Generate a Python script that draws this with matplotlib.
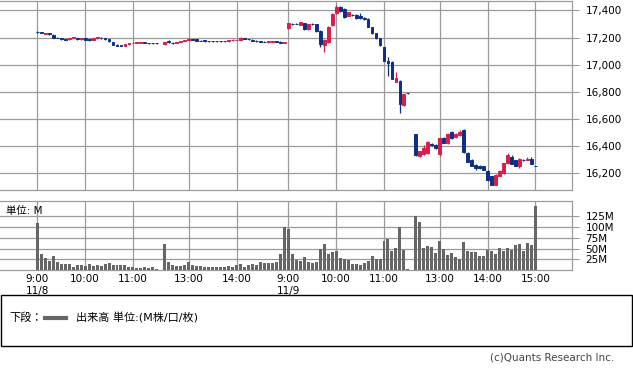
import matplotlib
matplotlib.use('Agg')
import matplotlib.pyplot as plt
from matplotlib.patches import Rectangle
from matplotlib.lines import Line2D

plt.rcParams['font.family'] = ['DejaVu Sans', 'Noto Sans CJK JP']

# 5-minute bars, morning 9:00-11:30, afternoon 12:30-15:00
am_times = ['%d:%02d' % ((540 + 5 * k) // 60, (540 + 5 * k) % 60) for k in range(31)]
pm_times = ['%d:%02d' % ((750 + 5 * k) // 60, (750 + 5 * k) % 60) for k in range(31)]
bar_times = am_times + pm_times
dates = ['11/8', '11/9']

# 11/8
open_d1 = [17242,17238,17228,17230,17222,17200,17195,17190,17186,17196,17198,17188,17194,17188,17182,17194,
           17200,17194,17186,17165,17148,17143,17140,17150,17158,17160,17162,17165,17160,17158,17157,
           17150,17175,17162,17160,17168,17174,17182,17188,17186,17176,17178,17175,17174,17175,17173,17174,
           17172,17178,17181,17184,17196,17190,17184,17176,17172,17170,17166,17170,17174,17170,17160]
high_d1 = [17246,17240,17236,17232,17224,17202,17198,17192,17200,17204,17200,17196,17196,17190,17198,17205,
           17202,17196,17188,17168,17150,17146,17153,17163,17166,17169,17168,17167,17162,17160,17159,
           17168,17178,17164,17170,17177,17185,17193,17191,17188,17178,17180,17177,17176,17177,17175,17177,
           17182,17187,17188,17202,17199,17192,17186,17178,17174,17172,17176,17176,17176,17172,17168]
low_d1 = [17232,17230,17225,17220,17198,17193,17185,17179,17184,17194,17183,17185,17182,17175,17180,17191,
          17191,17185,17170,17145,17137,17138,17138,17148,17156,17158,17160,17158,17154,17153,17155,
          17146,17163,17155,17157,17165,17172,17180,17182,17174,17171,17169,17169,17170,17168,17170,17169,
          17170,17176,17179,17182,17186,17183,17174,17169,17165,17167,17163,17167,17167,17159,17158]
close_d1 = [17238,17234,17232,17224,17200,17196,17188,17182,17198,17201,17186,17193,17185,17178,17195,17202,
            17194,17188,17172,17148,17140,17140,17150,17160,17163,17166,17165,17160,17157,17156,17157,
            17165,17166,17158,17168,17174,17182,17190,17185,17176,17174,17172,17172,17172,17171,17173,17172,
            17180,17184,17185,17198,17188,17186,17176,17172,17168,17170,17174,17172,17170,17162,17165]
vol_d1 = [110,37,28,22,33,19,14,14,14,8,11,11,9,14,9,12,9,14,16,12,11,11,11,6,6,5,5,6,5,6,2,
          61,19,11,9,9,11,19,11,9,9,8,8,6,6,8,6,9,6,11,14,8,12,14,12,19,17,17,17,19,37,101]

# 11/9
open_d2 = [17270,17300,17300,17292,17307,17260,17300,17297,17250,17145,17167,17290,17380,17424,17412,17362,
           17368,17368,17355,17345,17340,17275,17230,17195,17128,17030,17020,16875,16880,16700,16787,
           16487,16325,16340,16345,16415,16410,16340,16462,16420,16505,16468,16478,16520,16350,16300,16262,
           16255,16250,16215,16175,16115,16180,16200,16272,16320,16295,16255,16300,16300,16305,16252]
high_d2 = [17310,17305,17308,17316,17310,17300,17304,17300,17254,17186,17282,17380,17437,17430,17416,17390,
           17372,17372,17380,17350,17344,17278,17233,17198,17132,17055,17024,16945,16884,16785,16790,
           16490,16365,16404,16435,16420,16414,16465,16466,16495,16510,16495,16515,16525,16354,16304,16266,
           16258,16254,16220,16180,16190,16220,16276,16345,16335,16300,16310,16306,16315,16315,16255]
low_d2 = [17265,17292,17296,17290,17256,17256,17290,17240,17130,17093,17160,17285,17376,17390,17346,17358,
          17360,17340,17335,17330,17276,17226,17190,17140,17025,16915,16893,16870,16644,16695,16785,
          16325,16315,16335,16340,16400,16375,16325,16420,16415,16452,16462,16472,16350,16280,16250,16225,
          16232,16220,16145,16111,16112,16176,16196,16268,16265,16250,16235,16290,16296,16264,16250]
close_d2 = [17305,17296,17298,17312,17260,17296,17296,17245,17155,17180,17277,17375,17424,17395,17351,17385,
            17364,17345,17342,17335,17280,17230,17195,17145,17030,17015,16897,16900,16708,16780,16787,
            16330,16360,16385,16430,16410,16385,16460,16425,16490,16458,16490,16505,16355,16285,16255,16238,
            16238,16225,16150,16115,16185,16215,16272,16330,16270,16255,16305,16295,16305,16268,16252]
vol_d2 = [95,37,23,22,30,19,17,19,49,61,37,42,44,27,25,23,14,14,12,16,22,33,25,25,68,72,44,52,100,47,2,
          126,112,52,56,53,40,68,50,36,40,30,25,65,45,43,43,33,33,47,44,38,51,44,51,47,58,61,44,62,58,150]

price_ticks = [16200, 16400, 16600, 16800, 17000, 17200, 17400]
vol_ticks = [25, 50, 75, 100, 125]
tick_days = [0, 0, 0, 0, 0, 1, 1, 1, 1, 1, 1]
tick_times = ['9:00', '10:00', '11:00', '13:00', '14:00', '9:00', '10:00', '11:00', '13:00', '14:00', '15:00']

up_col = '#d81e4a'
down_col = '#0f2f86'
grid_col = '#9a9a9a'


def slot(day, t):
    h, m = map(int, t.split(':'))
    mins = h * 60 + m
    if mins <= 690:
        idx = (mins - 540) // 5
    else:
        idx = 32 + (mins - 750) // 5
    return day * 63 + idx


xs, o_all, h_all, l_all, c_all, v_all = [], [], [], [], [], []
for d, (o, h, l, c, v) in enumerate([(open_d1, high_d1, low_d1, close_d1, vol_d1),
                                     (open_d2, high_d2, low_d2, close_d2, vol_d2)]):
    xs += [slot(d, t) for t in bar_times]
    o_all += o
    h_all += h
    l_all += l
    c_all += c
    v_all += v

cols = [up_col if c > o else down_col for o, c in zip(o_all, c_all)]

fig = plt.figure(figsize=(6.33, 3.68), dpi=100)
ax = fig.add_axes([0, 1 - 190 / 368, 571.7 / 633, 189.5 / 368])
ax2 = fig.add_axes([0, 1 - 270 / 368, 571.7 / 633, 69 / 368])

xlim = (-9.36, 134.1)
tick_pos = [slot(d, t) for d, t in zip(tick_days, tick_times)]

# price candles
ax.vlines(xs, l_all, h_all, colors=cols, lw=0.9, zorder=3)
ax.bar(xs, [abs(c - o) for o, c in zip(o_all, c_all)], bottom=[min(o, c) for o, c in zip(o_all, c_all)],
       width=0.72, color=cols, edgecolor=cols, linewidth=0.7, zorder=4)
ax.set_xlim(*xlim)
ax.set_ylim(16075, 17473)
ax.set_yticks(price_ticks)
ax.set_yticklabels(['{:,}'.format(p) for p in price_ticks])
ax.set_xticks(tick_pos)
ax.set_xticklabels([])

# volume
ax2.bar(xs, v_all, width=0.75, color='#666666', zorder=3)
ax2.set_xlim(*xlim)
ax2.set_ylim(0, 161)
ax2.set_yticks(vol_ticks)
ax2.set_yticklabels(['%dM' % v for v in vol_ticks])
ax2.set_xticks(tick_pos)
labels = []
prev = None
for d, t in zip(tick_days, tick_times):
    if d != prev:
        labels.append(t + '\n' + dates[d])
    else:
        labels.append(t)
    prev = d
ax2.set_xticklabels(labels)
ax2.text(0.01, 0.93, '単位: M', transform=ax2.transAxes, fontsize=7.5, va='top', ha='left')

for a in (ax, ax2):
    a.grid(True, color=grid_col, lw=0.9)
    a.set_axisbelow(True)
    a.yaxis.tick_right()
    a.tick_params(axis='y', length=5, color=grid_col, labelsize=7.5, pad=5)
    a.tick_params(axis='x', length=0, labelsize=7.5, pad=3)
    a.spines['left'].set_visible(False)
    for s in ('top', 'right', 'bottom'):
        a.spines[s].set_color(grid_col)
        a.spines[s].set_linewidth(0.9)

# legend box
fig.add_artist(Rectangle((1 / 633, 1 - 346 / 368), 631 / 633, 51 / 368, transform=fig.transFigure,
                         fill=False, edgecolor='black', lw=1))
ly = 1 - 318 / 368
fig.text(9 / 633, ly, '下段：', fontsize=8, va='center', ha='left')
fig.add_artist(Line2D([45 / 633, 66 / 633], [ly, ly], transform=fig.transFigure, color='#666666', lw=3))
fig.text(76 / 633, ly, '出来高 単位:(M株/口/枚)', fontsize=8, va='center', ha='left')
fig.text(614 / 633, 1 - 358 / 368, '(c)Quants Research Inc.', fontsize=7.5, va='center', ha='right',
         color='#444444')

fig.savefig('out.png', dpi=100)
